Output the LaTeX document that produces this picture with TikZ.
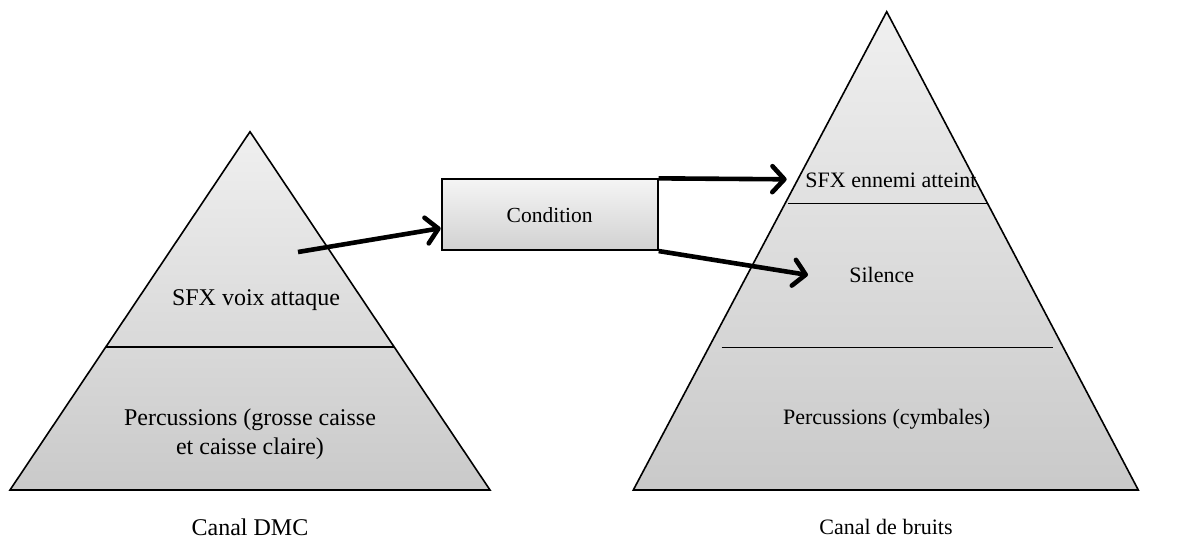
\documentclass[tikz,border=0pt]{standalone}
\usepackage{fontspec}
\setmainfont{Liberation Serif}
\usetikzlibrary{arrows.meta,shadows}
\begin{document}
\begin{tikzpicture}[x=1pt,y=-1pt,
  tri/.style={draw=black, line width=1.6pt, top color=gray!12, bottom color=gray!42},
  divider/.style={draw=black, line width=1.6pt},
  lbl/.style={font=\fontsize{24}{28.5}\selectfont, align=center, inner sep=0pt},
  lblr/.style={font=\fontsize{22}{26}\selectfont, align=center, inner sep=0pt},
  condbox/.style={draw=black, line width=2pt, top color=gray!8, bottom color=gray!36,
    minimum width=216pt, minimum height=70.7pt, inner sep=0pt, font=\fontsize{21.5}{26}\selectfont},
  conn/.style={line width=4.6pt, line join=round,
    -{Straight Barb[length=12pt,width=26pt,line cap=round,line join=round]}}
]
\useasboundingbox (0,0) rectangle (1187,544);
% left pyramid
\path[tri] (250,131.7) -- (490,490) -- (10,490) -- cycle;
\draw[divider] (106,346.7) -- (394,346.7);
% right pyramid
\path[tri] (886.7,11.7) -- (1138.3,490) -- (633.3,490) -- cycle;
\draw[divider] (788.3,203.3) -- (986.7,203.3);
\draw[divider] (721.7,347.3) -- (1053.3,347.3);
% texts
\node[lbl] (sfxv) at (256,300) {SFX voix attaque};
\node[lbl] (perc1) at (250,434) {Percussions (grosse caisse\\et caisse claire)};
\node[lblr] (sfxe) at (891,180) {SFX ennemi atteint};
\node[lblr] (sil) at (881.7,275) {Silence};
\node[lblr] (perc2) at (886.7,419.3) {Percussions (cymbales)};
\node[lbl] (canal1) at (250,527) {Canal DMC};
\node[lblr] (canal2) at (886,527) {Canal de bruits};
% condition
\node[condbox] (cond) at (549.7,214.7) {Condition};
% connectors
\coordinate (a1s) at (298,252);
\coordinate (a1e) at ([yshift=-13.5pt]cond.west);
\coordinate (a2e) at (786.7,179.3);
\coordinate (a3e) at (808,275);
\draw[conn] (a1s) -- (a1e);
\draw[conn] (cond.north east) -- (a2e);
\draw[conn] (cond.south east) -- (a3e);
\end{tikzpicture}
\end{document}
